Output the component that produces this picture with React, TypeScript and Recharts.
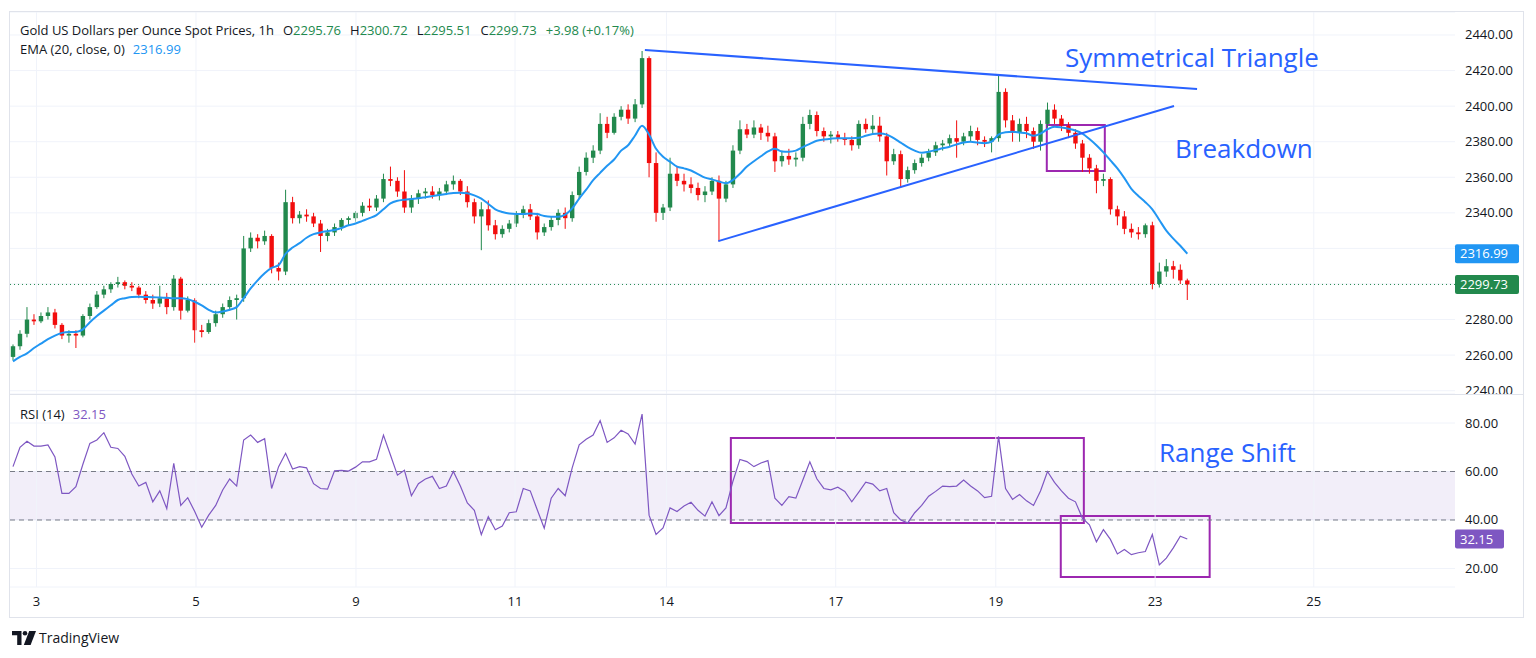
import React from 'react';
import {
  ComposedChart,
  Bar,
  Line,
  XAxis,
  YAxis,
  CartesianGrid,
  ReferenceLine,
  ReferenceArea,
} from 'recharts';

// 2-hour candles, Gold spot (XAU/USD), 2 Apr -> 23 Apr
const opens = [
  2259, 2265, 2272, 2280, 2279, 2282, 2284, 2277, 2271, 2272,
  2271, 2282, 2287, 2294, 2297, 2300, 2301, 2299, 2298, 2294,
  2291, 2289, 2292, 2287, 2303, 2285, 2291, 2274, 2273, 2278,
  2283, 2287, 2291, 2292, 2320, 2326, 2324, 2327, 2309, 2307,
  2346, 2337, 2339, 2338, 2334, 2327, 2329, 2332, 2336, 2337,
  2340, 2344, 2343, 2348, 2359, 2358, 2352, 2343, 2348, 2351,
  2352, 2350, 2352, 2356, 2358, 2352, 2346, 2338, 2342, 2333,
  2328, 2331, 2334, 2339, 2342, 2338, 2329, 2332, 2336, 2340,
  2337, 2350, 2363, 2371, 2375, 2390, 2385, 2394, 2398, 2393,
  2401, 2427, 2368, 2340, 2343, 2362, 2358, 2356, 2354, 2350,
  2352, 2358, 2348, 2356, 2375, 2387, 2384, 2388, 2385, 2383,
  2369, 2372, 2370, 2371, 2390, 2395, 2386, 2383, 2384, 2382,
  2381, 2378, 2390, 2387, 2389, 2383, 2369, 2373, 2359, 2364,
  2368, 2371, 2374, 2378, 2379, 2382, 2380, 2383, 2386, 2381,
  2380, 2382, 2408, 2392, 2385, 2390, 2386, 2380, 2390, 2398,
  2393, 2389, 2385, 2379, 2371, 2365, 2358, 2359, 2342, 2338,
  2331, 2329, 2328, 2333, 2300, 2307, 2310, 2308, 2302,
];
const highs = [
  2266, 2274, 2287, 2283, 2284, 2287, 2286, 2278, 2274, 2274,
  2283, 2289, 2296, 2299, 2301, 2304, 2302, 2301, 2299, 2296,
  2294, 2299, 2295, 2305, 2304, 2293, 2292, 2277, 2280, 2285,
  2289, 2293, 2294, 2327, 2329, 2328, 2330, 2328, 2312, 2353,
  2349, 2341, 2342, 2340, 2336, 2331, 2334, 2337, 2338, 2341,
  2346, 2348, 2350, 2362, 2366, 2360, 2364, 2350, 2353, 2354,
  2355, 2354, 2358, 2361, 2359, 2355, 2348, 2346, 2347, 2336,
  2333, 2336, 2341, 2344, 2345, 2340, 2334, 2338, 2342, 2343,
  2352, 2366, 2374, 2378, 2396, 2394, 2396, 2400, 2401, 2404,
  2431, 2428, 2374, 2345, 2371, 2366, 2362, 2360, 2357, 2355,
  2360, 2361, 2358, 2378, 2392, 2390, 2392, 2390, 2389, 2385,
  2375, 2376, 2374, 2394, 2398, 2397, 2388, 2386, 2386, 2385,
  2383, 2392, 2393, 2395, 2394, 2385, 2376, 2375, 2366, 2370,
  2373, 2376, 2380, 2381, 2384, 2392, 2385, 2389, 2388, 2383,
  2383, 2418, 2410, 2395, 2393, 2394, 2388, 2392, 2402, 2401,
  2395, 2391, 2387, 2381, 2373, 2367, 2362, 2360, 2344, 2341,
  2334, 2332, 2334, 2335, 2312, 2314, 2313, 2311, 2303,
];
const lows = [
  2257, 2263, 2270, 2277, 2278, 2280, 2275, 2269, 2267, 2264,
  2270, 2280, 2286, 2292, 2295, 2298, 2297, 2296, 2292, 2289,
  2286, 2287, 2283, 2285, 2280, 2284, 2267, 2270, 2272, 2276,
  2281, 2285, 2280, 2290, 2318, 2320, 2322, 2306, 2302, 2305,
  2334, 2334, 2335, 2332, 2318, 2324, 2327, 2330, 2333, 2335,
  2338, 2341, 2341, 2346, 2355, 2349, 2340, 2340, 2345, 2348,
  2348, 2347, 2350, 2353, 2350, 2343, 2334, 2319, 2330, 2325,
  2326, 2329, 2332, 2337, 2336, 2325, 2327, 2330, 2333, 2331,
  2335, 2348, 2361, 2368, 2373, 2382, 2384, 2392, 2390, 2391,
  2399, 2360, 2335, 2336, 2341, 2355, 2352, 2351, 2347, 2346,
  2350, 2324, 2346, 2354, 2373, 2382, 2382, 2381, 2380, 2363,
  2366, 2367, 2366, 2369, 2387, 2383, 2380, 2379, 2380, 2378,
  2375, 2376, 2385, 2384, 2380, 2361, 2367, 2354, 2357, 2362,
  2366, 2369, 2372, 2375, 2377, 2371, 2378, 2380, 2378, 2377,
  2374, 2380, 2388, 2380, 2380, 2382, 2376, 2375, 2388, 2390,
  2386, 2382, 2376, 2363, 2362, 2351, 2355, 2339, 2333, 2328,
  2326, 2325, 2326, 2297, 2298, 2304, 2303, 2300, 2291,
];
const closes = [
  2265, 2272, 2280, 2279, 2282, 2284, 2277, 2271, 2272, 2271,
  2282, 2287, 2294, 2297, 2300, 2301, 2299, 2298, 2294, 2291,
  2289, 2292, 2287, 2303, 2285, 2291, 2274, 2273, 2278, 2283,
  2287, 2291, 2292, 2320, 2326, 2324, 2327, 2309, 2307, 2346,
  2337, 2339, 2338, 2334, 2327, 2329, 2332, 2336, 2337, 2340,
  2344, 2343, 2348, 2359, 2358, 2352, 2343, 2348, 2351, 2352,
  2350, 2352, 2356, 2358, 2352, 2346, 2338, 2342, 2333, 2328,
  2331, 2334, 2339, 2342, 2338, 2329, 2332, 2336, 2340, 2337,
  2350, 2363, 2371, 2375, 2390, 2385, 2394, 2398, 2393, 2401,
  2427, 2368, 2340, 2343, 2362, 2358, 2356, 2354, 2350, 2352,
  2358, 2348, 2356, 2375, 2387, 2384, 2388, 2385, 2383, 2369,
  2372, 2370, 2371, 2390, 2395, 2386, 2383, 2384, 2382, 2381,
  2378, 2390, 2387, 2389, 2383, 2369, 2373, 2359, 2364, 2368,
  2371, 2374, 2378, 2379, 2382, 2380, 2383, 2386, 2381, 2380,
  2382, 2408, 2392, 2385, 2390, 2386, 2380, 2390, 2398, 2393,
  2389, 2385, 2379, 2371, 2365, 2358, 2359, 2342, 2338, 2331,
  2329, 2328, 2333, 2300, 2307, 2310, 2308, 2302, 2299.73,
];
const ema20 = [
  2256.5, 2259, 2261, 2264, 2266.5, 2269, 2271, 2272.5, 2273, 2273,
  2274.5, 2278.5, 2282, 2285, 2288, 2291, 2292, 2292.7, 2292.8, 2292.7,
  2292.6, 2292.4, 2292.2, 2292, 2292, 2291.5, 2290, 2288, 2285.5, 2284,
  2284.5, 2285.5, 2287, 2292, 2297.5, 2302, 2306, 2309, 2310.6, 2317,
  2320.5, 2323, 2326, 2328, 2329, 2329.7, 2330.3, 2331.5, 2333, 2334,
  2335.5, 2337, 2338.7, 2342, 2345.3, 2346.8, 2347.4, 2347.8, 2348.2, 2348.8,
  2349.4, 2350, 2350.6, 2351.2, 2351.3, 2351, 2349.8, 2348, 2345, 2342,
  2340.5, 2339.6, 2339.4, 2339.4, 2339.6, 2339.3, 2338.2, 2337.8, 2337.8, 2339,
  2342.5, 2348, 2353, 2358.4, 2362.5, 2366.5, 2370, 2375, 2378, 2383.5,
  2389, 2384, 2376, 2371.5, 2368.8, 2366, 2365, 2363.8, 2361.8, 2359.8,
  2358.8, 2357.6, 2356.7, 2358.5, 2362, 2366, 2369, 2371.8, 2374.5, 2376,
  2374.5, 2374.4, 2375, 2377, 2378.8, 2380.5, 2381.2, 2381.7, 2382, 2382,
  2382, 2382.2, 2383.3, 2384.3, 2384.6, 2384, 2382, 2379.5, 2377, 2375,
  2373.8, 2374.4, 2375.3, 2376.3, 2377.2, 2378.5, 2379.6, 2380, 2379.5, 2379.2,
  2380, 2384, 2385.3, 2385.6, 2385.2, 2384.7, 2383.3, 2384.5, 2387, 2388.4,
  2388, 2387.3, 2386.3, 2384.5, 2381.5, 2378, 2374, 2369.5, 2365, 2359.5,
  2353.5, 2349.5, 2346, 2342, 2336, 2330, 2325.5, 2321.5, 2316.99,
];
const rsi14 = [
  62, 70, 72.5, 70.5, 70.5, 71, 66, 51, 51, 53.7,
  63, 71.6, 73, 76, 70, 69.5, 66.3, 59, 54, 55.5,
  47.5, 52, 44.7, 63.4, 46, 49.2, 43.5, 37, 42, 46,
  52.4, 56.9, 54, 73, 75, 72, 73.5, 53, 62, 67.5,
  61, 62, 61.5, 55, 53, 52.7, 60.3, 60.5, 60.2, 61.8,
  64, 64, 65, 75, 66.8, 58.5, 60.5, 50, 55, 56.9,
  58, 53, 54, 60, 54, 47, 44, 34, 41.4, 36,
  37.5, 43, 43.4, 53, 52, 44.2, 36.6, 49, 53, 50,
  61.5, 71, 73.3, 75, 81, 72, 73.9, 77, 75.5, 71.3,
  83.7, 42, 34, 36.7, 45, 43.5, 45.8, 47.3, 44, 41.6,
  47.5, 41.8, 45, 56, 65, 64.1, 62, 63.5, 64.5, 49,
  46, 49.6, 49, 56.5, 64, 57, 53, 52.4, 53.5, 51.8,
  47.5, 51.5, 55.6, 54.8, 52, 53, 43, 40, 38.8, 43,
  46, 49.8, 51.8, 54, 53.8, 54, 56.5, 54, 52, 49.2,
  49.8, 74.5, 53, 48.5, 50.5, 47.9, 46, 52, 60, 55.5,
  52, 49, 47.5, 40.7, 38, 31, 36, 32, 26, 27.8,
  25.7, 26.5, 27, 34, 21.5, 24.3, 28.5, 33.3, 32.15,
];

// time axis: bar index where each day label sits
const dayTicks = [3.36, 26.18, 49.07, 71.82, 93.49, 117.7, 140.6, 163.4, 186.1];
const dayLabels = ['3', '5', '9', '11', '14', '17', '19', '23', '25'];
const priceTicks = [2240, 2260, 2280, 2300, 2320, 2340, 2360, 2380, 2400, 2420, 2440];
const rsiTicks = [20, 40, 60, 80];

// last hourly bar shown in the legend
const lastBar = { o: 2295.76, h: 2300.72, l: 2295.51, c: 2299.73, chg: 3.98, pct: 0.17 };

// drawn annotations (bar index, value)
const triangleTop = [{ x: 90.4, y: 2431.6 }, { x: 169.4, y: 2409.6 }];
const triangleBottom = [{ x: 100.9, y: 2324.1 }, { x: 166.1, y: 2400.1 }];
const breakBox = { x1: 147.9, x2: 156.2, y1: 2363.5, y2: 2389.4 };
const rangeBox = { x1: 102.7, x2: 153.2, y1: 38.8, y2: 73.8 };
const lowBox = { x1: 149.9, x2: 171.2, y1: 16.5, y2: 41.6 };

const UP = '#22894d';
const DOWN = '#f20d0d';
const EMA = '#2196f3';
const RSI = '#7e57c2';
const BOX = '#9c27b0';
const TRI = '#2962ff';
const GRID = '#f0f3fa';
const TEXT = '#131722';
const FONT = '"Open Sans", "Noto Sans", sans-serif';

const X_DOMAIN: [number, number] = [-0.572, 206.3];

const rows = closes.map((c, i) => ({
  i,
  open: opens[i],
  high: highs[i],
  low: lows[i],
  close: c,
  range: [lows[i], highs[i]],
  ema: ema20[i],
}));
const rsiRows = rsi14.map((v, i) => ({ i, rsi: v }));

const last = closes.length - 1;

const Candle = (props: any) => {
  const { x, y, width, height, payload } = props;
  if (!payload) return null;
  const top = height < 0 ? y + height : y;
  const h = Math.abs(height);
  const { open, close, high, low } = payload;
  const color = close >= open ? UP : DOWN;
  const cx = x + width / 2;
  const k = high > low ? h / (high - low) : 0;
  const yO = top + (high - open) * k;
  const yC = top + (high - close) * k;
  const bTop = Math.min(yO, yC);
  const bH = Math.max(1, Math.abs(yO - yC));
  return (
    <g>
      <line x1={cx} x2={cx} y1={top} y2={top + h} stroke={color} strokeWidth={1} />
      <rect x={cx - 2.2} y={bTop} width={4.4} height={bH} fill={color} />
    </g>
  );
};

const Tag = (props: any) => {
  const { viewBox, text, bg, w } = props;
  if (!viewBox) return null;
  const x = viewBox.x + viewBox.width;
  const y = viewBox.y;
  return (
    <g>
      <rect x={x} y={y - 9.5} width={w} height={19} rx={2} fill={bg} />
      <text x={x + 5} y={y + 4.5} fill="#ffffff" fontSize={13} fontFamily={FONT}>
        {text}
      </text>
    </g>
  );
};

const PriceTick = (props: any) => {
  const { x, y, payload } = props;
  const v = payload.value;
  if (v === 2300 || v === 2320) return <g />;
  return (
    <text x={x} y={y} dy={4.5} fill={TEXT} fontSize={13} fontFamily={FONT}>
      {v.toFixed(2)}
    </text>
  );
};

const RsiTick = (props: any) => {
  const { x, y, payload } = props;
  return (
    <text x={x} y={y} dy={4.5} fill={TEXT} fontSize={13} fontFamily={FONT}>
      {payload.value.toFixed(2)}
    </text>
  );
};

const abs = (style: React.CSSProperties): React.CSSProperties => ({
  position: 'absolute',
  whiteSpace: 'nowrap',
  ...style,
});

export default function App() {
  return (
    <div
      style={{
        position: 'absolute',
        left: 0,
        top: 0,
        width: 1536,
        height: 658,
        background: '#ffffff',
        fontFamily: FONT,
        color: TEXT,
        overflow: 'hidden',
      }}
    >
      {/* price pane */}
      <div style={abs({ left: 0, top: 0 })}>
        <ComposedChart
          width={1536}
          height={394}
          data={rows}
          margin={{ top: 12, right: 13, bottom: 0, left: 9 }}
        >
          <CartesianGrid vertical={false} stroke={GRID} />
          {dayTicks.map((t) => (
            <ReferenceLine key={'v' + t} x={t} stroke={GRID} />
          ))}
          <XAxis dataKey="i" type="number" domain={X_DOMAIN} allowDataOverflow hide />
          <YAxis
            orientation="right"
            width={68}
            domain={[2238.14, 2452.93]}
            allowDataOverflow
            ticks={priceTicks}
            interval={0}
            tick={<PriceTick />}
            tickSize={0}
            tickMargin={10}
            axisLine={false}
            tickLine={false}
          />
          <ReferenceLine
            y={closes[last]}
            stroke={UP}
            strokeDasharray="1 3"
            label={<Tag text={closes[last].toFixed(2)} bg={UP} w={64} />}
          />
          <ReferenceLine
            y={ema20[last]}
            stroke="none"
            label={<Tag text={ema20[last].toFixed(2)} bg={EMA} w={64} />}
          />
          <Bar dataKey="range" shape={<Candle />} barSize={5} isAnimationActive={false} />
          <Line
            dataKey="ema"
            type="monotone"
            stroke={EMA}
            strokeWidth={2}
            dot={false}
            activeDot={false}
            isAnimationActive={false}
          />
          <ReferenceLine segment={triangleTop} stroke={TRI} strokeWidth={2} ifOverflow="visible" />
          <ReferenceLine segment={triangleBottom} stroke={TRI} strokeWidth={2} ifOverflow="visible" />
          <ReferenceArea
            x1={breakBox.x1}
            x2={breakBox.x2}
            y1={breakBox.y1}
            y2={breakBox.y2}
            fill="none"
            fillOpacity={0}
            stroke={BOX}
            strokeWidth={2}
          />
        </ComposedChart>
      </div>

      {/* RSI pane */}
      <div style={abs({ left: 0, top: 394 })}>
        <ComposedChart
          width={1536}
          height={223}
          data={rsiRows}
          margin={{ top: 0, right: 13, bottom: 0, left: 9 }}
        >
          <CartesianGrid vertical={false} stroke={GRID} />
          {dayTicks.map((t) => (
            <ReferenceLine key={'r' + t} x={t} stroke={GRID} />
          ))}
          <XAxis
            dataKey="i"
            type="number"
            domain={X_DOMAIN}
            allowDataOverflow
            ticks={dayTicks}
            tickFormatter={(v: number) => dayLabels[dayTicks.indexOf(v)] ?? ''}
            height={30}
            tickSize={0}
            tickMargin={10}
            axisLine={false}
            tickLine={false}
            tick={{ fill: TEXT, fontSize: 13 }}
            interval={0}
          />
          <YAxis
            orientation="right"
            width={68}
            domain={[12.37, 91.96]}
            allowDataOverflow
            ticks={rsiTicks}
            interval={0}
            tick={<RsiTick />}
            tickSize={0}
            tickMargin={10}
            axisLine={false}
            tickLine={false}
          />
          <ReferenceArea y1={40} y2={60} fill={RSI} fillOpacity={0.1} stroke="none" />
          <ReferenceLine y={60} stroke="#787b86" strokeDasharray="5 4" />
          <ReferenceLine y={40} stroke="#787b86" strokeDasharray="5 4" />
          <ReferenceLine
            y={rsi14[last]}
            stroke="none"
            label={<Tag text={rsi14[last].toFixed(2)} bg={RSI} w={49} />}
          />
          <Line
            dataKey="rsi"
            type="linear"
            stroke={RSI}
            strokeWidth={1.2}
            dot={false}
            activeDot={false}
            isAnimationActive={false}
          />
          <ReferenceArea
            x1={rangeBox.x1}
            x2={rangeBox.x2}
            y1={rangeBox.y1}
            y2={rangeBox.y2}
            fill="none"
            fillOpacity={0}
            stroke={BOX}
            strokeWidth={2}
          />
          <ReferenceArea
            x1={lowBox.x1}
            x2={lowBox.x2}
            y1={lowBox.y1}
            y2={lowBox.y2}
            fill="none"
            fillOpacity={0}
            stroke={BOX}
            strokeWidth={2}
            ifOverflow="visible"
          />
        </ComposedChart>
      </div>

      {/* frame */}
      <div
        style={abs({
          left: 9,
          top: 11,
          width: 1515,
          height: 607,
          boxSizing: 'border-box',
          border: '1px solid #e0e3eb',
          pointerEvents: 'none',
        })}
      />
      <div style={abs({ left: 9, top: 394, width: 1515, height: 1, background: '#e0e3eb' })} />

      {/* legends */}
      <div style={abs({ left: 20, top: 21, fontSize: 13, lineHeight: '18px' })}>
        Gold US Dollars per Ounce Spot Prices, 1h
        <span style={{ marginLeft: 9 }}>O</span>
        <span style={{ color: UP }}>{lastBar.o.toFixed(2)}</span>
        <span style={{ marginLeft: 9 }}>H</span>
        <span style={{ color: UP }}>{lastBar.h.toFixed(2)}</span>
        <span style={{ marginLeft: 9 }}>L</span>
        <span style={{ color: UP }}>{lastBar.l.toFixed(2)}</span>
        <span style={{ marginLeft: 9 }}>C</span>
        <span style={{ color: UP }}>{lastBar.c.toFixed(2)}</span>
        <span style={{ color: UP, marginLeft: 9 }}>
          +{lastBar.chg.toFixed(2)} (+{lastBar.pct.toFixed(2)}%)
        </span>
      </div>
      <div style={abs({ left: 20, top: 40, fontSize: 13, lineHeight: '18px' })}>
        EMA (20, close, 0)
        <span style={{ color: EMA, marginLeft: 8 }}>{ema20[last].toFixed(2)}</span>
      </div>
      <div style={abs({ left: 20, top: 405, fontSize: 13, lineHeight: '18px' })}>
        RSI (14)
        <span style={{ color: RSI, marginLeft: 8 }}>{rsi14[last].toFixed(2)}</span>
      </div>

      {/* annotations */}
      <div style={abs({ left: 1065, top: 42, fontSize: 26, lineHeight: '30px', color: TRI })}>
        Symmetrical Triangle
      </div>
      <div style={abs({ left: 1175, top: 133, fontSize: 26, lineHeight: '30px', color: TRI })}>
        Breakdown
      </div>
      <div style={abs({ left: 1159, top: 437, fontSize: 26, lineHeight: '30px', color: TRI })}>
        Range Shift
      </div>

      {/* footer logo */}
      <div style={abs({ left: 12, top: 630, display: 'flex', alignItems: 'center' })}>
        <svg width="24" height="14" viewBox="0 0 24 14">
          <path d="M0 0h9.5v14H5.2V4.3H0z" fill={TEXT} />
          <circle cx="13" cy="2.3" r="2.3" fill={TEXT} />
          <path d="M17.2 0H24l-5.4 14h-6.8z" fill={TEXT} />
        </svg>
        <span style={{ marginLeft: 3, fontSize: 14, lineHeight: '16px', color: TEXT }}>
          TradingView
        </span>
      </div>
    </div>
  );
}
